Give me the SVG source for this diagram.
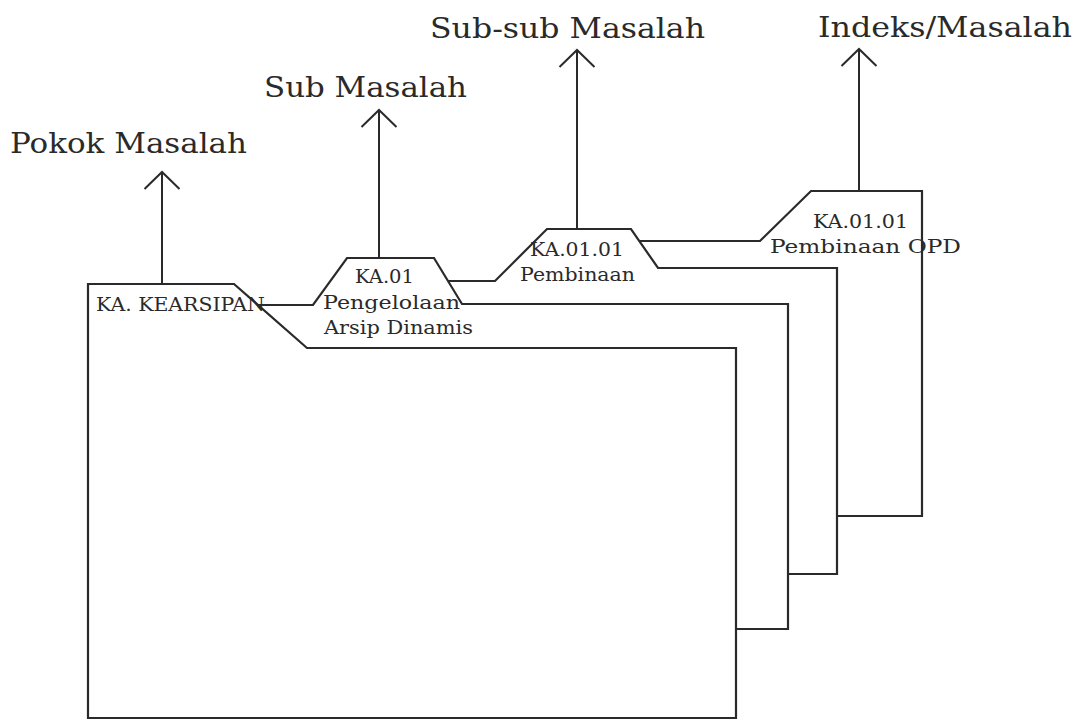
<svg xmlns="http://www.w3.org/2000/svg" width="1079" height="720" viewBox="0 0 1079 720">
<style>
.folder{fill:#fff;stroke:#2a2a2a;stroke-width:2.2;stroke-linejoin:miter}
.conn{fill:none;stroke:#2a2a2a;stroke-width:2}
.big{font-family:"DejaVu Serif","Liberation Serif",serif;font-size:28px;fill:#2a2a2a}
.sm{font-family:"DejaVu Serif","Liberation Serif",serif;font-size:19px;fill:#2a2a2a}
</style>
<defs>
<marker id="chev" markerUnits="userSpaceOnUse" markerWidth="40" markerHeight="40" viewBox="-20 -20 40 40" refX="0" refY="0" orient="auto">
<path d="M-17,-17.5 L0,0 L-17,17.5" fill="none" stroke="#2a2a2a" stroke-width="2"/>
</marker>
</defs>
<rect width="1079" height="720" fill="#fff"/>
<g id="folder4">
<path class="folder" d="M600,241 H760 L811,191 H922 V516 H600 Z"/>
<text class="sm" x="813" y="228" textLength="95" lengthAdjust="spacingAndGlyphs">KA.01.01</text>
<text class="sm" x="770" y="253" textLength="191" lengthAdjust="spacingAndGlyphs">Pembinaan OPD</text>
</g>
<g id="folder3">
<path class="folder" d="M420,281 H495 L547,229 H631 L658,268 H837 V574 H420 Z"/>
<text class="sm" x="530" y="256" textLength="94" lengthAdjust="spacingAndGlyphs">KA.01.01</text>
<text class="sm" x="520" y="281" textLength="115" lengthAdjust="spacingAndGlyphs">Pembinaan</text>
</g>
<g id="folder2">
<path class="folder" d="M240,305 H313 L347,258 H434 L462,304 H788 V629 H240 Z"/>
<text class="sm" x="355" y="283" textLength="59" lengthAdjust="spacingAndGlyphs">KA.01</text>
<text class="sm" x="323" y="309" textLength="137" lengthAdjust="spacingAndGlyphs">Pengelolaan</text>
<text class="sm" x="324" y="334" textLength="149" lengthAdjust="spacingAndGlyphs">Arsip Dinamis</text>
</g>
<g id="folder1">
<path class="folder" d="M88,718 V284 H234 L307,348 H736 V718 Z"/>
<text class="sm" x="96" y="311" textLength="169" lengthAdjust="spacingAndGlyphs">KA. KEARSIPAN</text>
</g>
<g id="connectors">
<line class="conn" x1="162" y1="284" x2="162" y2="172" marker-end="url(#chev)"/>
<line class="conn" x1="379" y1="258" x2="379" y2="110" marker-end="url(#chev)"/>
<line class="conn" x1="577" y1="229" x2="577" y2="50" marker-end="url(#chev)"/>
<line class="conn" x1="859" y1="191" x2="859" y2="49" marker-end="url(#chev)"/>
</g>
<g id="labels">
<text class="big" x="10" y="153" textLength="237" lengthAdjust="spacingAndGlyphs">Pokok Masalah</text>
<text class="big" x="264" y="97" textLength="203" lengthAdjust="spacingAndGlyphs">Sub Masalah</text>
<text class="big" x="430" y="38" textLength="275" lengthAdjust="spacingAndGlyphs">Sub-sub Masalah</text>
<text class="big" x="818" y="37" textLength="254" lengthAdjust="spacingAndGlyphs">Indeks/Masalah</text>
</g>
</svg>
